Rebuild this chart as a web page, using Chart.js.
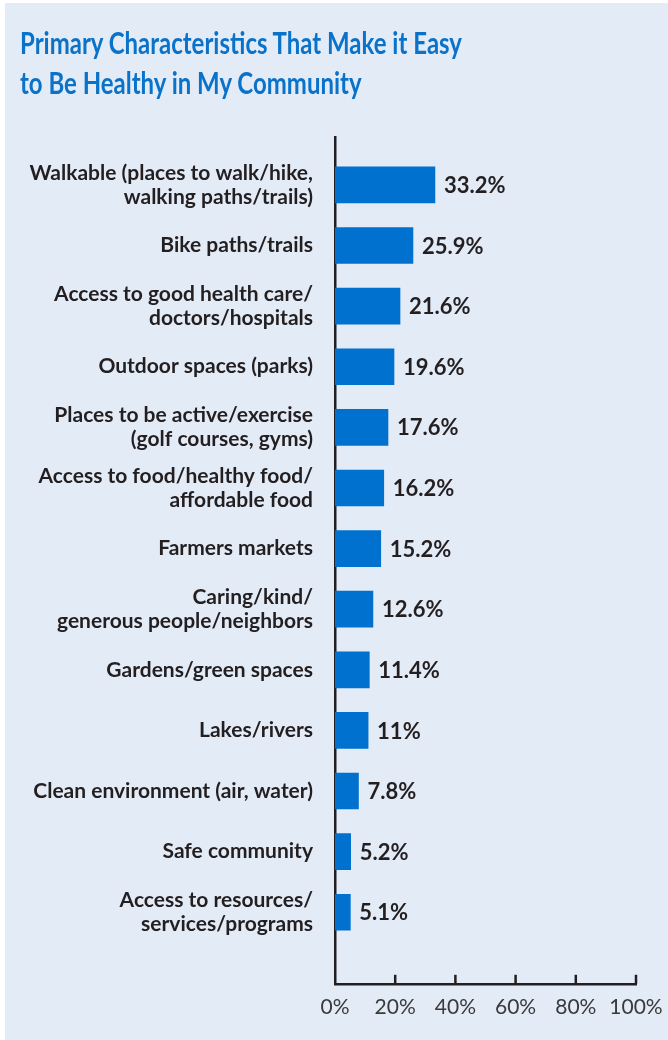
<!DOCTYPE html>
<html>
<head>
<meta charset="utf-8">
<script src="https://cdn.jsdelivr.net/npm/chart.js@4.4.1/dist/chart.umd.min.js"></script>
<style>
  html, body { margin: 0; padding: 0; background: #fff; }
  #panel { position: absolute; left: 5px; top: 3px; width: 663px; height: 1037px; background: #e3ebf7; }
  #title {
    position: absolute; left: 20px; top: 22px; margin: 0;
    font-family: Lato, sans-serif;
    font-weight: bold; font-size: 30px; line-height: 40px; color: #0b72c9;
    white-space: nowrap; transform-origin: 0 0;
  }
  #title span { display: block; }
  #chart { position: absolute; left: 0; top: 0; }
</style>
</head>
<body>
<div id="panel"></div>
<canvas id="chart" width="668" height="1040"></canvas>
<h1 id="title"><span id="t1">Primary Characteristics That Make it Easy</span><span>to Be Healthy in My Community</span></h1>
<script>
const categories = [
  ['Walkable (places to walk/hike,', 'walking paths/trails)'],
  'Bike paths/trails',
  ['Access to good health care/', 'doctors/hospitals'],
  'Outdoor spaces (parks)',
  ['Places to be active/exercise', '(golf courses, gyms)'],
  ['Access to food/healthy food/', 'affordable food'],
  'Farmers markets',
  ['Caring/kind/', 'generous people/neighbors'],
  'Gardens/green spaces',
  'Lakes/rivers',
  'Clean environment (air, water)',
  'Safe community',
  ['Access to resources/', 'services/programs']
];
const percents = [33.2, 25.9, 21.6, 19.6, 17.6, 16.2, 15.2, 12.6, 11.4, 11, 7.8, 5.2, 5.1];
const xTicks = [0, 20, 40, 60, 80, 100];

const ink = '#231f20';
const fmt = v => (Number.isInteger(v) ? v : v.toFixed(1)) + '%';

// squeeze the heading so its first line is 442px wide (condensed look)
const title = document.getElementById('title');
const w1 = document.getElementById('t1').getBoundingClientRect().width;
title.style.transform = 'scaleX(' + (442 / w1) + ')';

// value text to the right of each bar
const valueLabels = {
  id: 'valueLabels',
  afterDatasetsDraw(chart) {
    const ctx = chart.ctx;
    const meta = chart.getDatasetMeta(0);
    ctx.save();
    ctx.font = 'bold 22px Lato';
    ctx.fillStyle = ink;
    ctx.textBaseline = 'middle';
    meta.data.forEach((bar, i) => {
      ctx.fillText(fmt(percents[i]), bar.x + 9, bar.y + 1);
    });
    ctx.restore();
  }
};

// small tick marks pointing up from the x axis
const upTicks = {
  id: 'upTicks',
  afterDraw(chart) {
    const x = chart.scales.x;
    const ctx = chart.ctx;
    const bottom = chart.chartArea.bottom;
    ctx.save();
    ctx.strokeStyle = ink;
    ctx.lineWidth = 2.5;
    x.ticks.forEach(t => {
      if (t.value === 0) return;
      const px = x.getPixelForValue(t.value);
      ctx.beginPath();
      ctx.moveTo(px, bottom);
      ctx.lineTo(px, bottom - 9);
      ctx.stroke();
    });
    ctx.restore();
  }
};

new Chart(document.getElementById('chart'), {
  type: 'bar',
  data: {
    datasets: [{
      data: percents.map((v, i) => ({ x: v, y: i })),
      backgroundColor: '#0071ce',
      barThickness: 36
    }]
  },
  options: {
    indexAxis: 'y',
    responsive: false,
    devicePixelRatio: 1,
    animation: false,
    layout: { padding: { top: 137, right: 32, bottom: 9, left: 0 } },
    plugins: { legend: { display: false }, tooltip: { enabled: false } },
    scales: {
      y: {
        type: 'linear',
        reverse: true,
        offset: false,
        min: -0.79,
        max: 13.18,
        afterBuildTicks: s => { s.ticks = categories.map((_, i) => ({ value: i })); },
        afterFit: s => { s.width = 335; },
        grid: { display: false, drawTicks: false },
        border: { display: true, color: ink, width: 2.5 },
        ticks: {
          padding: 22,
          color: ink,
          font: { family: 'Lato', size: 21, weight: 'bold', lineHeight: 1.15 },
          callback: v => categories[v]
        }
      },
      x: {
        min: 0,
        max: 100,
        afterBuildTicks: s => { s.ticks = xTicks.map(v => ({ value: v })); },
        afterFit: s => { s.paddingRight = 0; },
        grid: { display: false, drawTicks: false },
        border: { display: true, color: ink, width: 2.5 },
        ticks: {
          padding: 11,
          color: '#3a3a3a',
          maxRotation: 0,
          font: { family: 'Lato', size: 21, lineHeight: 1.2 },
          callback: v => v + '%'
        }
      }
    }
  },
  plugins: [valueLabels, upTicks]
});
</script>
</body>
</html>
